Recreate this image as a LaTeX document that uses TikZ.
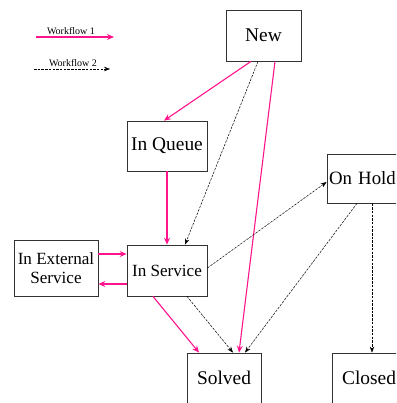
\documentclass[tikz,border=0pt]{standalone}
\usepackage{fontspec}
\setmainfont{Liberation Serif}
\usetikzlibrary{arrows.meta,calc}
\definecolor{flowpink}{RGB}{255,20,140}
\tikzset{
  state/.style={draw=black!80, line width=0.8pt, rectangle, inner sep=0pt,
    font=\fontsize{19.4}{21}\selectfont},
  smallstate/.style={state, font=\fontsize{17.1}{19.5}\selectfont, align=center},
  wfone/.style={draw=flowpink, line width=1.1pt,
    -{Stealth[length=7pt,width=6pt,inset=2.5pt]}},
  wftwo/.style={draw=black, line width=0.5pt, dash pattern=on 2.5pt off 1.2pt,
    -{Stealth[length=6pt,width=4.5pt,inset=2pt]}},
  legendtext/.style={font=\fontsize{10}{12}\selectfont, inner sep=0pt}
}
\begin{document}
\begin{tikzpicture}[x=1pt,y=-1pt]
  \useasboundingbox (0,0) rectangle (396,403);
  \clip (0,0) rectangle (396,403);

  % legend
  \coordinate (l1a) at (36,37);
  \coordinate (l1b) at (114,37);
  \coordinate (l2a) at (34,69);
  \coordinate (l2b) at (110,69);
  \draw[wfone] (l1a) -- (l1b);
  \draw[wftwo] (l2a) -- (l2b);
  \node[legendtext] (lt1) at (71,31) {Workflow 1};
  \node[legendtext] (lt2) at (73,63) {Workflow 2};

  % states
  \node[state, minimum width=75pt, minimum height=51pt] (new) at (263.5,35.5) {New};
  \node[state, minimum width=80pt, minimum height=50pt] (queue) at (167,146) {In Queue};
  \node[state, font=\fontsize{18.8}{21}\selectfont, minimum width=83pt, minimum height=49pt,
    text width=79pt, align=left] (hold) at (368.5,178.5) {On Hold};
  \node[smallstate, minimum width=84pt, minimum height=56pt] (ext) at (56,268)
    {In External\\Service};
  \node[state, font=\fontsize{17.1}{19.5}\selectfont, minimum width=80pt, minimum height=51pt]
    (service) at (167,270.5) {In Service};
  \node[state, minimum width=74pt, minimum height=50pt] (solved) at (224,378) {Solved};
  \node[state, minimum width=74pt, minimum height=50pt] (closed) at (369,378) {Closed};

  % workflow 1
  \draw[wfone] ([xshift=-12.5pt]new.south) -- ([xshift=-3pt]queue.north);
  \draw[wfone] (queue.south) -- (service.north);
  \draw[wfone] ([xshift=11.5pt]new.south) -- ([xshift=15pt]solved.north);
  \draw[wfone] ([yshift=14pt]ext.east) -- ([yshift=16.5pt]service.west);
  \draw[wfone] ([yshift=-13.5pt]service.west) -- ([yshift=-16pt]ext.east);
  \draw[wfone] ([xshift=-14pt]service.south) -- ([xshift=-25pt]solved.north);

  % workflow 2
  \draw[wftwo] ([xshift=-5.5pt]new.south) -- ([xshift=18pt]service.north);
  \draw[wftwo] ([yshift=2.5pt]service.east) -- ([yshift=-3.5pt]hold.west);
  \draw[wftwo] ([xshift=20pt]service.south) -- ([xshift=9pt]solved.north);
  \draw[wftwo] ([xshift=-11.5pt]hold.south) -- ([xshift=21pt]solved.north);
  \draw[wftwo] ([xshift=3.5pt]hold.south) -- ([xshift=3pt]closed.north);
\end{tikzpicture}
\end{document}
